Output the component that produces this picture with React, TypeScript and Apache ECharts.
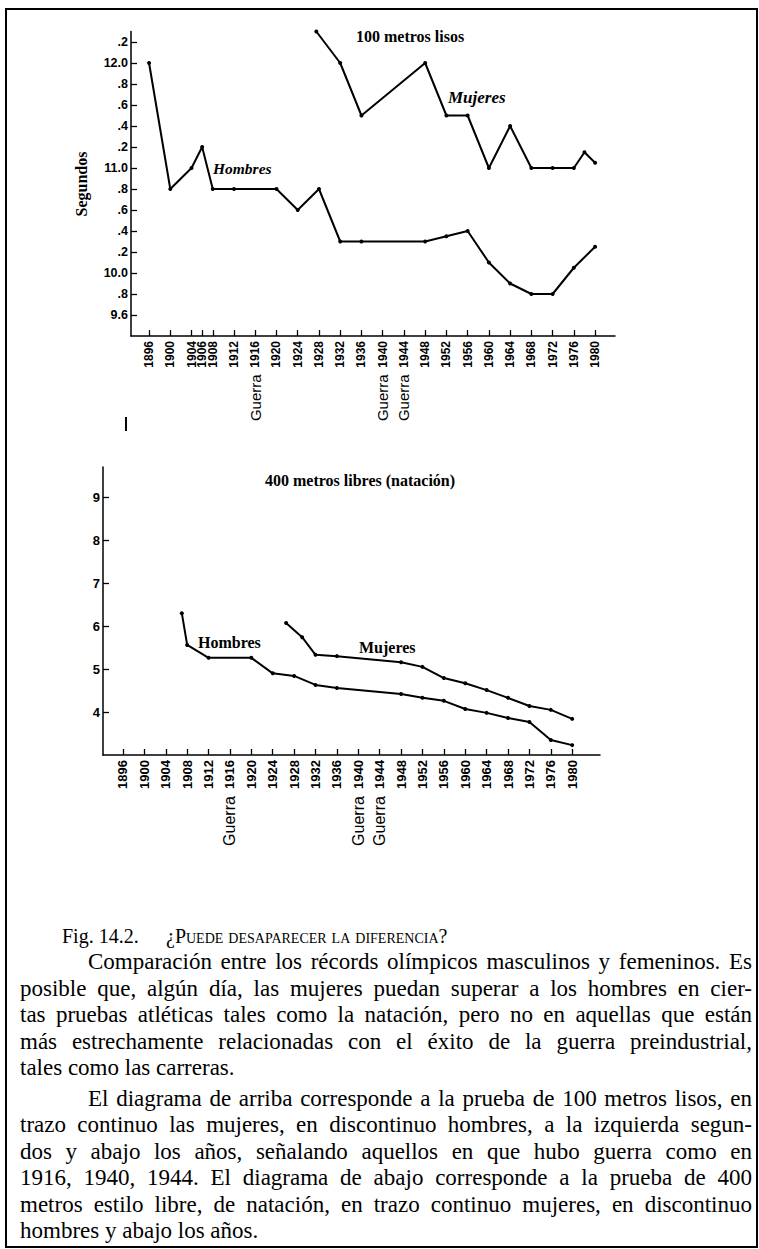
import React, { useEffect, useRef } from "react";
import * as echarts from "echarts";

// ---------- data ----------
const TOP_TICK_YEARS = [1896, 1900, 1904, 1906, 1908, 1912, 1916, 1920, 1924, 1928, 1932, 1936, 1940, 1944, 1948, 1952, 1956, 1960, 1964, 1968, 1972, 1976, 1980];
const BOTTOM_TICK_YEARS = [1896, 1900, 1904, 1908, 1912, 1916, 1920, 1924, 1928, 1932, 1936, 1940, 1944, 1948, 1952, 1956, 1960, 1964, 1968, 1972, 1976, 1980];
const WAR_YEARS = [1916, 1940, 1944];

const TOP_Y_TICKS = [9.6, 9.8, 10.0, 10.2, 10.4, 10.6, 10.8, 11.0, 11.2, 11.4, 11.6, 11.8, 12.0, 12.2];
const TOP_Y_LABELS = ["9.6", ".8", "10.0", ".2", ".4", ".6", ".8", "11.0", ".2", ".4", ".6", ".8", "12.0", ".2"];
const BOTTOM_Y_TICKS = [4, 5, 6, 7, 8, 9];

// 100 metros lisos (segundos)
const MEN_100_YEARS = [1896, 1900, 1904, 1906, 1908, 1912, 1920, 1924, 1928, 1932, 1936, 1948, 1952, 1956, 1960, 1964, 1968, 1972, 1976, 1980];
const MEN_100_TIMES = [12.0, 10.8, 11.0, 11.2, 10.8, 10.8, 10.8, 10.6, 10.8, 10.3, 10.3, 10.3, 10.35, 10.4, 10.1, 9.9, 9.8, 9.8, 10.05, 10.25];
const WOMEN_100_YEARS = [1927.5, 1932, 1936, 1948, 1952, 1956, 1960, 1964, 1968, 1972, 1976, 1978, 1980];
const WOMEN_100_TIMES = [12.3, 12.0, 11.5, 12.0, 11.5, 11.5, 11.0, 11.4, 11.0, 11.0, 11.0, 11.15, 11.05];

// 400 metros libres, natación (minutos)
const MEN_400_YEARS = [1907, 1908, 1912, 1920, 1924, 1928, 1932, 1936, 1948, 1952, 1956, 1960, 1964, 1968, 1972, 1976, 1980];
const MEN_400_TIMES = [6.3, 5.56, 5.26, 5.26, 4.9, 4.84, 4.63, 4.56, 4.42, 4.33, 4.26, 4.07, 3.98, 3.86, 3.77, 3.35, 3.23];
const WOMEN_400_YEARS = [1926.5, 1929.5, 1932, 1936, 1948, 1952, 1956, 1960, 1964, 1968, 1972, 1976, 1980];
const WOMEN_400_TIMES = [6.07, 5.74, 5.33, 5.3, 5.16, 5.05, 4.79, 4.67, 4.51, 4.33, 4.14, 4.05, 3.84];

const FIG_NUMBER = "Fig. 14.2.";
const FIG_TITLE = "¿Puede desaparecer la diferencia?";
const CAPTION_P1 = [
  "Comparación entre los récords olímpicos masculinos y femeninos. Es",
  "posible que, algún día, las mujeres puedan superar a los hombres en cier-",
  "tas pruebas atléticas tales como la natación, pero no en aquellas que están",
  "más estrechamente relacionadas con el éxito de la guerra preindustrial,",
  "tales como las carreras.",
];
const CAPTION_P2 = [
  "El diagrama de arriba corresponde a la prueba de 100 metros lisos, en",
  "trazo continuo las mujeres, en discontinuo hombres, a la izquierda segun-",
  "dos y abajo los años, señalando aquellos en que hubo guerra como en",
  "1916, 1940, 1944. El diagrama de abajo corresponde a la prueba de 400",
  "metros estilo libre, de natación, en trazo continuo mujeres, en discontinuo",
  "hombres y abajo los años.",
];

// ---------- styles ----------
const SERIF = '"Liberation Serif", "Times New Roman", serif';
const SANS = '"Liberation Sans", Arial, sans-serif';
const BLACK = "#000";

const pairs = (xs: number[], ys: number[]) => xs.map((x, i) => [x, ys[i]]);

const yearFormatter = (v: number) => (WAR_YEARS.includes(Math.round(v)) ? `{g|Guerra}  ${Math.round(v)}` : `${Math.round(v)}`);

function xAxisCfg(gridIndex: number, min: number, max: number, ticks: number[], fontSize: number) {
  return {
    type: "value",
    gridIndex,
    min,
    max,
    splitLine: { show: false },
    axisLine: { show: true, onZero: false, lineStyle: { color: BLACK, width: 1.5 } },
    axisTick: { show: true, inside: true, length: 6, customValues: ticks, lineStyle: { color: BLACK, width: 1.3 } },
    axisLabel: {
      show: true,
      customValues: ticks,
      rotate: 90,
      margin: 5,
      hideOverlap: false,
      formatter: yearFormatter,
      color: BLACK,
      fontSize,
      fontWeight: "bold",
      fontFamily: SANS,
      rich: {
        g: { fontSize: fontSize + 3, fontWeight: "normal", fontFamily: SANS, color: BLACK },
      },
    },
  };
}

function lineSeries(name: string, xi: number, data: number[][]) {
  return {
    name,
    type: "line",
    xAxisIndex: xi,
    yAxisIndex: xi,
    data,
    clip: false,
    silent: true,
    symbol: "circle",
    symbolSize: 4,
    showSymbol: true,
    lineStyle: { color: BLACK, width: 2 },
    itemStyle: { color: BLACK },
  };
}

function text(x: number, y: number, t: string, size: number, opts: any = {}) {
  return {
    type: "text",
    x,
    y,
    rotation: opts.rotation || 0,
    silent: true,
    style: {
      text: t,
      fill: BLACK,
      fontFamily: SERIF,
      fontSize: size,
      fontWeight: opts.weight || "bold",
      fontStyle: opts.italic ? "italic" : "normal",
      align: opts.align || "left",
      verticalAlign: "middle",
    },
  };
}

const option: any = {
  animation: false,
  backgroundColor: "transparent",
  grid: [
    { left: 131, top: 31.5, width: 484, height: 304.5, containLabel: false, outerBoundsMode: "none" },
    { left: 103, top: 467, width: 497, height: 288, containLabel: false, outerBoundsMode: "none" },
  ],
  xAxis: [
    xAxisCfg(0, 1892.6, 1983.75, TOP_TICK_YEARS, 12),
    xAxisCfg(1, 1892.26, 1985.2, BOTTOM_TICK_YEARS, 13),
  ],
  yAxis: [
    {
      type: "value",
      gridIndex: 0,
      min: 9.4,
      max: 12.3,
      splitLine: { show: false },
      axisLine: { show: true, onZero: false, lineStyle: { color: BLACK, width: 1.5 } },
      axisTick: { show: true, inside: true, length: 6, customValues: TOP_Y_TICKS, lineStyle: { color: BLACK, width: 1.3 } },
      axisLabel: {
        customValues: TOP_Y_TICKS,
        margin: 3,
        color: BLACK,
        fontSize: 12.5,
        fontWeight: "bold",
        fontFamily: SANS,
        formatter: (v: number) => {
          const i = TOP_Y_TICKS.findIndex((t) => Math.abs(t - v) < 1e-6);
          return i >= 0 ? TOP_Y_LABELS[i] : "";
        },
      },
    },
    {
      type: "value",
      gridIndex: 1,
      min: 3,
      max: 9.7,
      splitLine: { show: false },
      axisLine: { show: true, onZero: false, lineStyle: { color: BLACK, width: 1.5 } },
      axisTick: { show: true, inside: true, length: 6, customValues: BOTTOM_Y_TICKS, lineStyle: { color: BLACK, width: 1.3 } },
      axisLabel: {
        customValues: BOTTOM_Y_TICKS,
        margin: 3,
        color: BLACK,
        fontSize: 13,
        fontWeight: "bold",
        fontFamily: SANS,
      },
    },
  ],
  series: [
    lineSeries("Hombres 100 m", 0, pairs(MEN_100_YEARS, MEN_100_TIMES)),
    lineSeries("Mujeres 100 m", 0, pairs(WOMEN_100_YEARS, WOMEN_100_TIMES)),
    lineSeries("Hombres 400 m", 1, pairs(MEN_400_YEARS, MEN_400_TIMES)),
    lineSeries("Mujeres 400 m", 1, pairs(WOMEN_400_YEARS, WOMEN_400_TIMES)),
  ],
  graphic: [
    text(356, 36, "100 metros lisos", 16),
    text(81, 184, "Segundos", 16, { rotation: Math.PI / 2, align: "center" }),
    text(213, 168, "Hombres", 15.5, { italic: true }),
    text(448, 97, "Mujeres", 17, { italic: true }),
    {
      type: "line",
      silent: true,
      shape: { x1: 126, y1: 417, x2: 126, y2: 431 },
      style: { stroke: BLACK, lineWidth: 2 },
    },
    text(265, 480, "400 metros libres (natación)", 16),
    text(198, 642, "Hombres", 16),
    text(359, 647, "Mujeres", 16),
  ],
};

export default function App() {
  const ref = useRef<HTMLDivElement>(null);
  useEffect(() => {
    if (!ref.current) return;
    const chart = echarts.init(ref.current, null, { renderer: "svg" });
    chart.setOption(option);
    return () => chart.dispose();
  }, []);

  const lineDiv = (t: string, i: number, arr: string[]) => {
    const last = i === arr.length - 1;
    return (
      <div
        key={i}
        style={{
          textAlign: last ? "left" : "justify",
          textAlignLast: last ? "left" : "justify",
          paddingLeft: i === 0 ? 68 : 0,
          height: 26.5,
        } as any}
      >
        {t}
      </div>
    );
  };

  return (
    <div style={{ position: "absolute", left: 0, top: 0, width: 759, height: 1249, background: "#fff", overflow: "hidden" }}>
      <div
        style={{
          position: "absolute",
          left: 5,
          top: 8,
          width: 753,
          height: 1240,
          border: "2px solid #000",
          boxSizing: "border-box",
        }}
      />
      <div ref={ref} style={{ position: "absolute", left: 0, top: 0, width: 759, height: 910 }} />
      <div style={{ position: "absolute", left: 0, top: 923, width: 759, height: 26, fontFamily: SERIF, fontSize: 20, lineHeight: "26px", color: BLACK }}>
        <span style={{ position: "absolute", left: 62 }}>{FIG_NUMBER}</span>
        <span style={{ position: "absolute", left: 166, fontVariant: "small-caps" }}>{FIG_TITLE}</span>
      </div>
      <div style={{ position: "absolute", left: 20, top: 949, width: 732, fontFamily: SERIF, fontSize: 23, lineHeight: "26.5px", color: BLACK }}>
        {CAPTION_P1.map((t, i) => lineDiv(t, i, CAPTION_P1))}
        <div style={{ height: 4 }} />
        {CAPTION_P2.map((t, i) => lineDiv(t, i, CAPTION_P2))}
      </div>
    </div>
  );
}
